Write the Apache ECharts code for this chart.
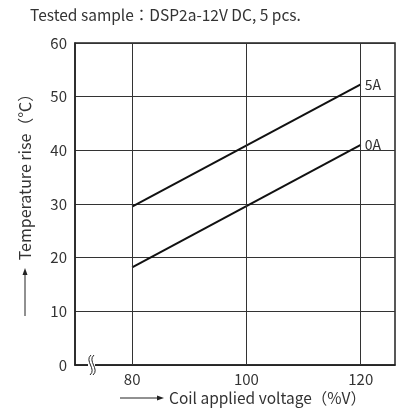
<!DOCTYPE html>
<html>
<head>
<meta charset="utf-8">
<script src="https://cdn.jsdelivr.net/npm/echarts@6/dist/echarts.min.js"></script>
<style>html,body{margin:0;padding:0;background:#fff;}#c{width:401px;height:408px;}</style>
</head>
<body>
<div id="c"></div>
<script>
const voltages = [80, 120];
const rise5A = [29.5, 52.3];
const rise0A = [18.2, 41.0];
const xTickValues = [80, 100, 120];
const seriesNames = ['5A', '0A'];
const titleText = 'Tested sample\uFF1ADSP2a-12V DC, 5 pcs.';
const yName = 'Temperature rise\uFF08\u2103\uFF09';
const xName = 'Coil applied voltage\uFF08%V\uFF09';

const chart = echarts.init(document.getElementById('c'));
const font = '"Noto Sans CJK JP", "Noto Sans", sans-serif';
const ink = '#333';

function mk(name, ys) {
  return {
    name: name, type: 'line', symbol: 'none',
    data: voltages.map((v, i) => [v, ys[i]]),
    lineStyle: { color: '#111', width: 2 },
    endLabel: { show: true, formatter: name, color: ink, fontSize: 14, fontFamily: font, distance: 4 },
    silent: true
  };
}

const s5 = mk(seriesNames[0], rise5A);
s5.markLine = {
  silent: true, symbol: 'none', label: { show: false },
  lineStyle: { color: '#333', width: 1, type: 'solid' },
  data: xTickValues.map(v => ({ xAxis: v }))
};

chart.setOption({
  animation: false,
  backgroundColor: '#fff',
  textStyle: { fontFamily: font },
  grid: { left: 75, right: 6, top: 43, bottom: 43, show: true, borderColor: '#222', borderWidth: 1.5, containLabel: false },
  title: {
    text: titleText, left: 30, top: 7, padding: 0,
    textStyle: { fontSize: 15.5, fontWeight: 'normal', color: ink, fontFamily: font }
  },
  xAxis: {
    type: 'value', min: 70, max: 126,
    axisLine: { show: true, lineStyle: { color: '#222', width: 1.5 } },
    axisTick: { show: false },
    splitLine: { show: false },
    axisLabel: { customValues: xTickValues, color: ink, fontSize: 15, margin: 7, fontFamily: font }
  },
  yAxis: {
    type: 'value', min: 0, max: 60, interval: 10,
    axisLine: { show: true, lineStyle: { color: '#222', width: 1.5 } },
    axisTick: { show: false },
    splitLine: { show: true, lineStyle: { color: '#333', width: 1 } },
    axisLabel: { color: ink, fontSize: 15, margin: 8, fontFamily: font }
  },
  series: [s5, mk(seriesNames[1], rise0A)],
  graphic: [
    { type: 'text', x: 25, y: 173, rotation: Math.PI / 2,
      style: { text: yName, fill: ink, fontSize: 16, fontFamily: font, align: 'center', verticalAlign: 'middle' } },
    { type: 'line', shape: { x1: 25, y1: 316, x2: 25, y2: 274 }, style: { stroke: '#222', lineWidth: 1 } },
    { type: 'polygon', shape: { points: [[25, 268], [22.5, 275], [27.5, 275]] }, style: { fill: '#222' } },
    { type: 'line', shape: { x1: 120, y1: 398, x2: 157, y2: 398 }, style: { stroke: '#222', lineWidth: 1 } },
    { type: 'polygon', shape: { points: [[164, 398], [157, 395.5], [157, 400.5]] }, style: { fill: '#222' } },
    { type: 'text', x: 169, y: 398,
      style: { text: xName, fill: ink, fontSize: 15.5, fontFamily: font, align: 'left', verticalAlign: 'middle' } },
    { type: 'rect', shape: { x: 88, y: 362, width: 7, height: 6 }, style: { fill: '#fff' }, z: 100 },
    { type: 'bezierCurve', shape: { x1: 91, y1: 355, x2: 90, y2: 375, cpx1: 84, cpy1: 361, cpx2: 97, cpy2: 369 }, style: { stroke: '#222', lineWidth: 1, fill: null }, z: 101 },
    { type: 'bezierCurve', shape: { x1: 94, y1: 355, x2: 93, y2: 375, cpx1: 87, cpy1: 361, cpx2: 100, cpy2: 369 }, style: { stroke: '#222', lineWidth: 1, fill: null }, z: 101 }
  ]
});
</script>
</body>
</html>
